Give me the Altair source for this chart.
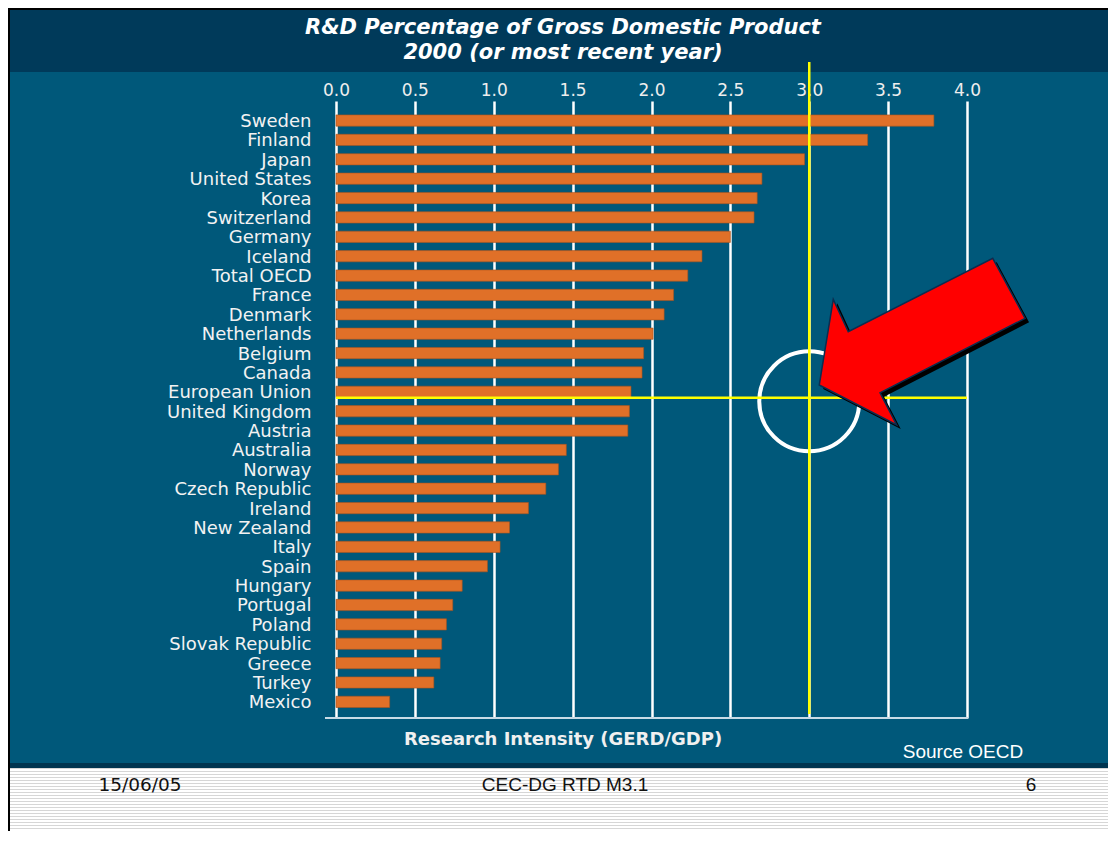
import altair as alt
import pandas as pd

# ---------------- data ----------------
countries = ["Sweden", "Finland", "Japan", "United States", "Korea", "Switzerland",
             "Germany", "Iceland", "Total OECD", "France", "Denmark", "Netherlands",
             "Belgium", "Canada", "European Union", "United Kingdom", "Austria",
             "Australia", "Norway", "Czech Republic", "Ireland", "New Zealand",
             "Italy", "Spain", "Hungary", "Portugal", "Poland", "Slovak Republic",
             "Greece", "Turkey", "Mexico"]
gerd = [3.79, 3.37, 2.97, 2.70, 2.67, 2.65, 2.50, 2.32, 2.23, 2.14, 2.08, 2.01,
        1.95, 1.94, 1.87, 1.86, 1.85, 1.46, 1.41, 1.33, 1.22, 1.10, 1.04, 0.96,
        0.80, 0.74, 0.70, 0.67, 0.66, 0.62, 0.34]
x_ticks = [0.0, 0.5, 1.0, 1.5, 2.0, 2.5, 3.0, 3.5, 4.0]
target_value = [3.0]
highlight = ["European Union"]
title_lines = ["R&D Percentage of Gross Domestic Product", "2000 (or most recent year)"]
axis_title = "Research Intensity (GERD/GDP)"
source_text = "Source OECD"
footer_date = "15/06/05"
footer_mid = "CEC-DG RTD M3.1"
footer_page = "6"

bars_df = pd.DataFrame({"country": countries, "gerd": gerd})
target_df = pd.DataFrame({"v": target_value})
hl_df = pd.DataFrame({"country": highlight, "x0": [0.0], "x1": [4.0], "v": target_value})
one = pd.DataFrame({"k": [0]})

# ---------------- geometry / style ----------------
W, H = 631, 617
PAD = {"left": 328, "top": 93, "right": 141, "bottom": 113}
TEAL = "#00587A"
DARK = "#003A5A"
ORANGE = "#E07028"
YELLOW = "#FFFF00"

x_scale = alt.Scale(domain=[0, 4], nice=False, zero=True)
y_scale = alt.Scale(domain=countries, paddingInner=0.42, paddingOuter=0.63, align=0.57)

x_axis = alt.Axis(orient="top", values=x_ticks, format=".1f", title=None, grid=True,
                  gridColor="#ffffff", gridWidth=2.5, gridOpacity=1, domain=False,
                  ticks=False, tickSize=0, labelColor="#eeeeee", labelFont="DejaVu Sans",
                  labelFontSize=17, labelPadding=6, labelBaseline="alphabetic",
                  labelFlush=False)
y_axis = alt.Axis(title=None, domain=False, ticks=False, tickSize=0, grid=False,
                  labelColor="#f2f2f2", labelFont="DejaVu Sans", labelFontSize=18,
                  labelPadding=25, labelOffset=1.5)


def X(field):
    return alt.X(field, scale=x_scale, axis=x_axis)


def Y(field):
    return alt.Y(field, scale=y_scale, axis=y_axis)


def rect(x, x2, y, y2, **kw):
    return alt.Chart(one).mark_rect(**kw).encode(
        x=alt.value(x), x2=alt.value(x2), y=alt.value(y), y2=alt.value(y2))


def txt(s, x, y, **kw):
    return alt.Chart(one).mark_text(text=s, align="center", baseline="middle", **kw).encode(
        x=alt.value(x), y=alt.value(y))


# striped footer texture
stops = []
n_str = 21
for k in range(n_str):
    a = k / n_str
    b = (k + 0.4) / n_str
    c = (k + 1) / n_str
    stops += [alt.GradientStop(offset=a, color="#d6d6d6"),
              alt.GradientStop(offset=b, color="#d6d6d6"),
              alt.GradientStop(offset=b, color="#ffffff"),
              alt.GradientStop(offset=c, color="#ffffff")]
stripes = alt.Gradient(gradient="linear", stops=stops, x1=0, x2=0, y1=0, y2=1)

title_bar = rect(-326, 772, -91, -29, fill=DARK)
dark_strip = rect(-326, 772, 662, 667, fill="#003550")
footer_bg = rect(-326, 772, 667, 730, fill=stripes)
top_border = rect(-328, 772, -93, -91, fill="#000000")
left_border = rect(-328, -326, -93, 730, fill="#000000")

bars = alt.Chart(bars_df).mark_bar(fill=ORANGE, stroke="#a9541f", strokeWidth=0.6).encode(
    x=X("gerd:Q"),
    y=Y("country:N"),
)

bottom_line = alt.Chart(one).mark_rule(color="#c8dbe6", strokeWidth=2).encode(
    x=alt.value(-11), x2=alt.value(W + 1), y=alt.value(H))

circle = alt.Chart(hl_df).mark_point(shape="circle", size=10000, filled=False,
                                     color="#ffffff", stroke="#ffffff", strokeWidth=4,
                                     opacity=1, yOffset=9.5).encode(
    x=X("v:Q"),
    y=Y("country:N"),
)

h_rule = alt.Chart(hl_df).mark_rule(color=YELLOW, strokeWidth=2.5, yOffset=6).encode(
    x=X("x0:Q"),
    x2="x1:Q",
    y=Y("country:N"),
)

v_rule = alt.Chart(target_df).mark_rule(color=YELLOW, strokeWidth=2.5).encode(
    x=X("v:Q"),
    y=alt.value(-39), y2=alt.value(613),
)

arrow_path = ("M10,-6.8 L24,-92.5 L39,-60.1 L183.5,-133.5 "
              "L215.8,-73.5 L70.8,0.9 L87.5,33.2 Z")

arrow_shadow = alt.Chart(hl_df).mark_point(shape=arrow_path, size=4, filled=True,
                                           fill="#000000", strokeWidth=0, opacity=1,
                                           xOffset=4, yOffset=4).encode(
    x=X("v:Q"),
    y=Y("country:N"),
)
arrow = alt.Chart(hl_df).mark_point(shape=arrow_path, size=4, filled=True,
                                    fill="#ff0000", stroke="#0b2d50", strokeWidth=1.5,
                                    opacity=1).encode(
    x=X("v:Q"),
    y=Y("country:N"),
)

t1 = txt(title_lines[0], 227, -73, font="DejaVu Sans", fontSize=21, fontWeight="bold",
         fontStyle="italic", color="#ffffff")
t2 = txt(title_lines[1], 227, -48, font="DejaVu Sans", fontSize=21, fontWeight="bold",
         fontStyle="italic", color="#ffffff")
t_axis = txt(axis_title, 227, 639, font="DejaVu Sans", fontSize=18, fontWeight="bold",
             color="#f0f0f0")
t_src = txt(source_text, 627, 651, font="Liberation Sans", fontSize=19, color="#ffffff")
t_date = txt(footer_date, -196, 684, font="DejaVu Sans", fontSize=18.5, color="#111111")
t_mid = txt(footer_mid, 229, 684, font="Liberation Sans", fontSize=19, color="#111111")
t_page = txt(footer_page, 695, 684, font="Liberation Sans", fontSize=19, color="#111111")

chart = alt.layer(
    title_bar, dark_strip, footer_bg, top_border, left_border,
    bars, bottom_line, circle, h_rule, v_rule, arrow_shadow, arrow,
    t1, t2, t_axis, t_src, t_date, t_mid, t_page,
).properties(
    width=W, height=H,
    autosize=alt.AutoSizeParams(type="none"),
    padding=PAD,
    background=TEAL,
).configure_view(stroke=None)

chart.save("out.html", embed_options={"renderer": "svg", "actions": False})
